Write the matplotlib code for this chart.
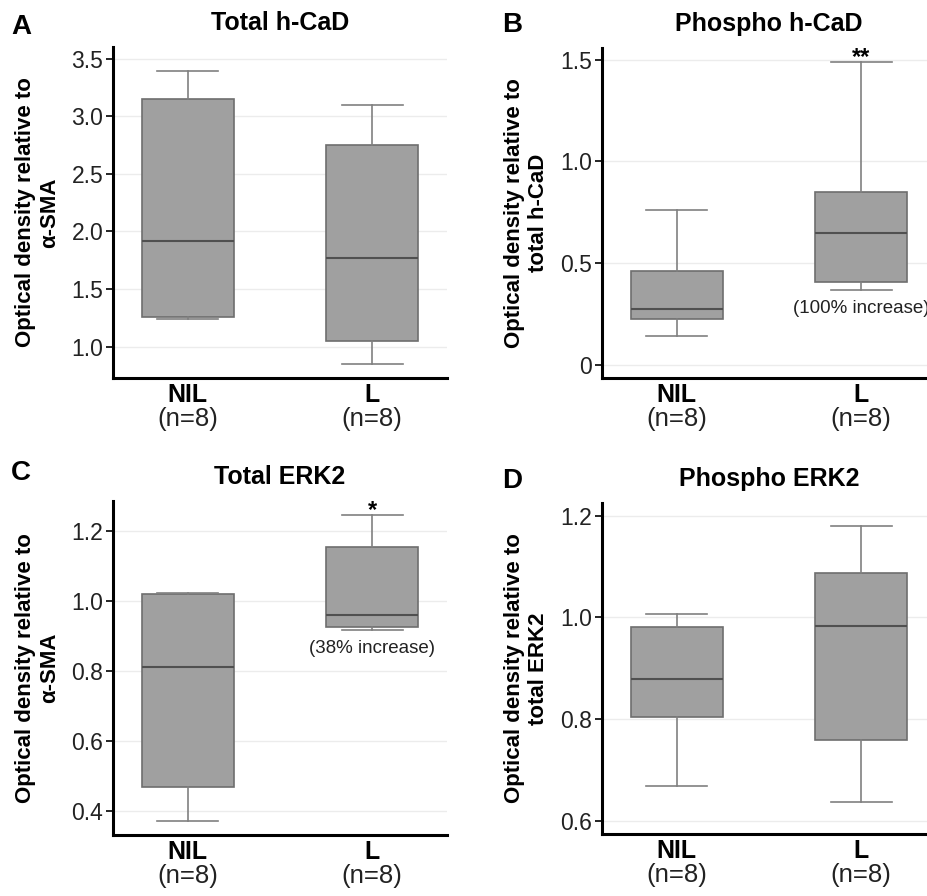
import matplotlib
matplotlib.use("Agg")
import matplotlib.pyplot as plt

plt.rcParams['font.family'] = ['Liberation Sans', 'DejaVu Sans']

groups = ["NIL", "L"]
n_labels = ["(n=8)", "(n=8)"]

# box summaries: [whisker low, Q1, median, Q3, whisker high] for NIL, L
total_hcad = [[1.24, 1.26, 1.92, 3.15, 3.39], [0.85, 1.05, 1.77, 2.75, 3.10]]
phospho_hcad = [[0.14, 0.225, 0.275, 0.462, 0.762], [0.367, 0.408, 0.648, 0.849, 1.489]]
total_erk2 = [[0.371, 0.466, 0.811, 1.019, 1.024], [0.917, 0.925, 0.960, 1.155, 1.246]]
phospho_erk2 = [[0.669, 0.805, 0.879, 0.982, 1.007], [0.636, 0.759, 0.983, 1.087, 1.179]]

titles = ["Total h-CaD", "Phospho h-CaD", "Total ERK2", "Phospho ERK2"]
letters = ["A", "B", "C", "D"]
ylabels = ["Optical density relative to\nα-SMA",
           "Optical density relative to\ntotal h-CaD",
           "Optical density relative to\nα-SMA",
           "Optical density relative to\ntotal ERK2"]
yticks = [[1.0, 1.5, 2.0, 2.5, 3.0, 3.5], [0, 0.5, 1.0, 1.5],
          [0.4, 0.6, 0.8, 1.0, 1.2], [0.6, 0.8, 1.0, 1.2]]
yticklabels = [["1.0", "1.5", "2.0", "2.5", "3.0", "3.5"], ["0", "0.5", "1.0", "1.5"],
               ["0.4", "0.6", "0.8", "1.0", "1.2"], ["0.6", "0.8", "1.0", "1.2"]]
ylims = [(0.728, 3.60), (-0.064, 1.557), (0.33, 1.286), (0.574, 1.225)]
stars = [None, "**", "*", None]
notes = [None, "(100% increase)", "(38% increase)", None]

data = [total_hcad, phospho_hcad, total_erk2, phospho_erk2]

fig = plt.figure(figsize=(9.28, 8.96), dpi=100)
W, H = 928, 896
# axes boxes in pixels: left, top, right, bottom
boxes_px = [(113, 47, 447, 378), (602, 48, 936, 378),
            (113, 501, 447, 835), (602, 503, 936, 834)]

for i in range(4):
    l, t, r, b = boxes_px[i]
    ax = fig.add_axes([l / W, 1 - b / H, (r - l) / W, (b - t) / H])

    stats = []
    for j, g in enumerate(groups):
        lo, q1, med, q3, hi = data[i][j]
        stats.append(dict(whislo=lo, q1=q1, med=med, q3=q3, whishi=hi, fliers=[], label=g))

    ax.bxp(stats, positions=[0, 1], widths=0.5, showfliers=False, patch_artist=True,
           boxprops=dict(facecolor="#a0a0a0", edgecolor="#6e6e6e", linewidth=1.2),
           medianprops=dict(color="#505050", linewidth=1.5),
           whiskerprops=dict(color="#808080", linewidth=1.2),
           capprops=dict(color="#808080", linewidth=1.2),
           capwidths=0.33)

    ax.set_xlim(-0.405, 1.405)
    ax.set_ylim(*ylims[i])
    ax.set_yticks(yticks[i])
    ax.set_yticklabels(yticklabels[i])
    ax.grid(axis="y", color="#ececec", linewidth=1)
    ax.set_axisbelow(True)
    for s in ["top", "right"]:
        ax.spines[s].set_visible(False)
    for s in ["left", "bottom"]:
        ax.spines[s].set_linewidth(2.2)
        ax.spines[s].set_color("black")
    ax.tick_params(axis="y", labelsize=16.5, length=5, width=1.2, colors="black", pad=2)
    ax.tick_params(axis="y", labelcolor="#222222")
    ax.set_xticks([])

    for j, g in enumerate(groups):
        ax.annotate(g, xy=(j, 0), xycoords=("data", "axes fraction"), xytext=(0, -12.5),
                    textcoords="offset points", ha="center", va="center",
                    fontsize=18, fontweight="bold")
        ax.annotate(n_labels[j], xy=(j, 0), xycoords=("data", "axes fraction"), xytext=(0, -29.5),
                    textcoords="offset points", ha="center", va="center", fontsize=18.5,
                    color="#222222")

    ax.set_ylabel(ylabels[i], fontsize=16, fontweight="bold", linespacing=1.2)
    ax.yaxis.set_label_coords(-0.158, 0.5)

    ax.annotate(titles[i], xy=(0.5, 1.0), xycoords="axes fraction", xytext=(0, 8.5),
                textcoords="offset points", ha="center", va="bottom",
                fontsize=18, fontweight="bold")

    if stars[i]:
        ax.annotate(stars[i], xy=(1, data[i][1][4]), xytext=(0, -1.5), textcoords="offset points",
                    ha="center", va="baseline", fontsize=17, fontweight="bold")
    if notes[i]:
        ax.annotate(notes[i], xy=(1, data[i][1][0]), xytext=(0, -7), textcoords="offset points",
                    ha="center", va="top", fontsize=13.5, color="#222222")

# panel letters
for letter, (x, y) in zip(letters, [(11, 27), (502, 25), (11, 473), (502, 481)]):
    fig.text(x / W, 1 - y / H, letter, fontsize=20, fontweight="bold", ha="left", va="center")

fig.savefig("out.png", dpi=100)
